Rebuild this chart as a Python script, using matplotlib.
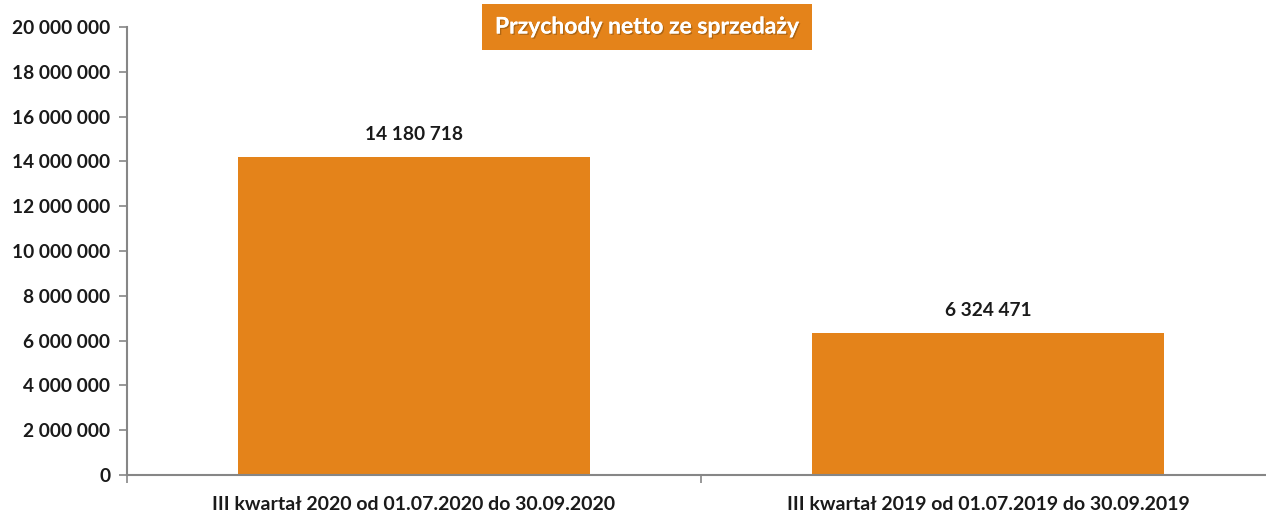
import matplotlib
matplotlib.use("Agg")
import matplotlib.pyplot as plt
import matplotlib.patheffects as pe
from matplotlib.ticker import FuncFormatter, FixedLocator

categories = ["III kwartał 2020 od 01.07.2020 do 30.09.2020",
              "III kwartał 2019 od 01.07.2019 do 30.09.2019"]
values = [14180718, 6324471]
title = "Przychody netto ze sprzedaży"

plt.rcParams['font.family'] = ['Lato', 'DejaVu Sans']
orange = "#E4831A"
axis_gray = "#868686"
txt = "#1a1a1a"

fig = plt.figure(figsize=(12.66, 5.11), dpi=100)
ax = fig.add_axes([127/1266, 1-475/511, (1275-127)/1266, (475-27)/511])

x = list(range(len(categories)))
ax.bar(x, values, width=0.613, color=orange, zorder=2)

def fmt(v, pos=None):
    return f"{int(round(v)):,}".replace(",", " ")

for xi, v in zip(x, values):
    ax.annotate(fmt(v), (xi, v), xytext=(0, 10), textcoords="offset points",
                ha="center", va="bottom", fontsize=13.8, fontweight="bold", color=txt)

ax.set_xlim(-0.5, len(categories) - 0.5)
ax.set_ylim(0, 20000000)
ax.set_yticks(range(0, 20000001, 2000000))
ax.yaxis.set_major_formatter(FuncFormatter(fmt))

ax.xaxis.set_major_locator(FixedLocator([i - 0.5 for i in range(len(categories) + 1)]))
ax.xaxis.set_major_formatter(FuncFormatter(lambda v, p: ""))
ax.xaxis.set_minor_locator(FixedLocator(x))
ax.set_xticklabels(categories, minor=True)
ax.tick_params(axis="x", which="minor", length=0, pad=15, labelsize=14, labelcolor=txt)
ax.tick_params(axis="x", which="major", length=6, color=axis_gray, width=1.2)
ax.tick_params(axis="y", length=6, color=axis_gray, width=1.2, labelsize=13.8, labelcolor=txt, pad=6)
for lab in ax.get_xticklabels(minor=True) + ax.get_yticklabels():
    lab.set_fontweight("bold")

for s in ["top", "right"]:
    ax.spines[s].set_visible(False)
for s in ["left", "bottom"]:
    ax.spines[s].set_color(axis_gray)
    ax.spines[s].set_linewidth(1.5)

fig.text(647/1266, 1-27/511, title, ha="center", va="center", fontsize=16.5,
         fontweight="bold", color="white",
         path_effects=[pe.withSimplePatchShadow(offset=(1, -1), shadow_rgbFace="#7a4a10", alpha=0.5), pe.Normal()],
         bbox=dict(boxstyle="square,pad=0.55", facecolor=orange, edgecolor="none"))

fig.savefig("out.png", dpi=100)
